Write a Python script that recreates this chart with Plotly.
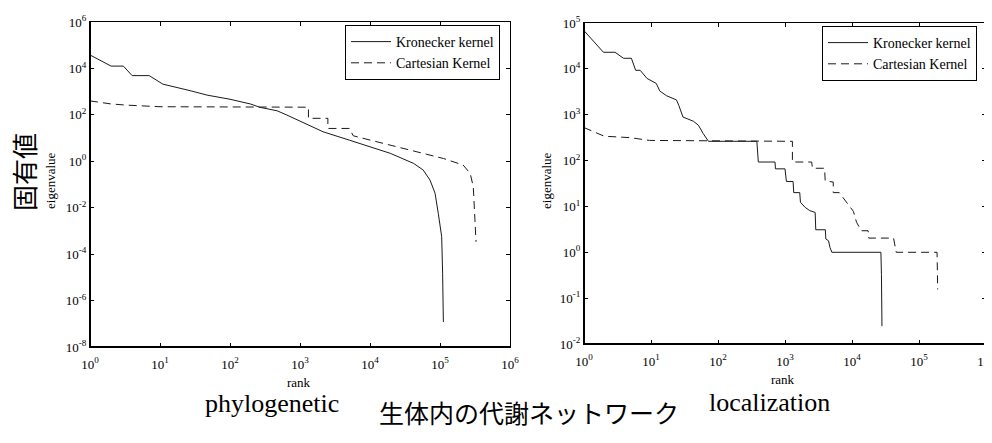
import plotly.graph_objects as go

# ---------------- data ----------------
phylo_kron_rank = [1, 2, 3, 4, 7, 9, 11, 27, 47, 100, 195, 270, 470, 650, 1380, 2140,
                   5100, 1.0e4, 1.95e4, 4.2e4, 5.75e4, 7.2e4, 8.5e4, 9.46e4, 1.057e5,
                   1.09e5, 1.117e5]
phylo_kron_val = [3.8e4, 1.26e4, 1.26e4, 4.9e3, 4.9e3, 3.16e3, 2.1e3, 1.1e3, 710, 470,
                  295, 210, 150, 98, 33, 18.6, 8.1, 4.3, 2.2, 0.81, 0.42, 0.155, 0.042,
                  5.6e-3, 5.6e-4, 1.5e-5, 1.2e-7]

phylo_cart_rank = [1, 2, 3.3, 10, 1320, 1320, 2500, 2500, 5100, 5750, 6800, 1.55e4,
                   5.1e4, 1.12e5, 2.14e5, 2.7e5, 2.99e5, 3.16e5, 3.27e5]
phylo_cart_val = [400, 295, 263, 224, 214, 71, 71, 26, 26, 12.6, 11.0, 5.9,
                  2.57, 1.32, 0.69, 0.30, 0.079, 2.95e-3, 3.4e-4]

loc_kron_rank = [1, 1.95, 2.9, 3.9, 5.1, 5.9, 6.9, 8.7, 12, 13.5, 17, 24, 26, 30, 43, 51,
                 60, 72, 380, 400, 710, 720, 1000, 1050, 1320, 1350, 1660, 1700, 2000,
                 2340, 2820, 2880, 4000, 4070, 4470, 4680, 5000, 2.7e4, 2.75e4, 2.8e4]
loc_kron_val = [6.8e4, 2.3e4, 2.3e4, 1.7e4, 1.7e4, 9.3e3, 9.3e3, 6.2e3, 4.8e3, 3.3e3,
                2.6e3, 2.1e3, 1.6e3, 890, 720, 590, 390, 263, 263, 93, 93, 66, 66, 35,
                35, 20, 20, 12.3, 9.5, 8.1, 7.4, 3.1, 3.1, 1.95, 1.78, 1.29, 1.0, 1.0,
                0.33, 0.0245]

loc_cart_rank = [1, 2, 4.9, 9.5, 1290, 1290, 2500, 2570, 3900, 3980, 5250, 5250, 6450,
                 7950, 1.05e4, 1.17e4, 1.38e4, 1.74e4, 1.78e4, 4.17e4, 4.37e4, 4.57e4,
                 1.86e5, 1.9e5]
loc_cart_val = [525, 340, 316, 275, 263, 93, 93, 68, 68, 36, 34, 20, 20, 13.5, 7.8, 4.5,
                2.95, 2.95, 2.04, 2.04, 1.29, 1.0, 1.0, 0.155]

x_tickvals = [1, 10, 100, 1e3, 1e4, 1e5, 1e6]
x_ticktext = ["10<sup>0</sup>", "10<sup>1</sup>", "10<sup>2</sup>", "10<sup>3</sup>",
              "10<sup>4</sup>", "10<sup>5</sup>", "10<sup>6</sup>"]
y1_tickvals = [1e-8, 1e-6, 1e-4, 1e-2, 1, 1e2, 1e4, 1e6]
y1_ticktext = ["10<sup>-8</sup>", "10<sup>-6</sup>", "10<sup>-4</sup>", "10<sup>-2</sup>",
               "10<sup>0</sup>", "10<sup>2</sup>", "10<sup>4</sup>", "10<sup>6</sup>"]
y2_tickvals = [1e-2, 1e-1, 1, 10, 100, 1e3, 1e4, 1e5]
y2_ticktext = ["10<sup>-2</sup>", "10<sup>-1</sup>", "10<sup>0</sup>", "10<sup>1</sup>",
               "10<sup>2</sup>", "10<sup>3</sup>", "10<sup>4</sup>", "10<sup>5</sup>"]

series_names = ["Kronecker kernel", "Cartesian Kernel"]
panel_titles = ["phylogenetic", "localization"]
x_title = "rank"
y_title = "eigenvalue"
y_big_title = "固有値"
bottom_title = "生体内の代謝ネットワーク"

# ---------------- figure ----------------
W, H = 992, 443
OFF = 8  # page body margin
SERIF = "Liberation Serif"
CJK = "Noto Sans CJK JP"
LINE_C = "#1a1a1a"


def px(x):
    return (x - OFF) / W


def py(y):
    return 1 - (y - OFF) / H


fig = go.Figure()
fig.add_trace(go.Scatter(x=phylo_kron_rank, y=phylo_kron_val, mode="lines",
                         name=series_names[0], line=dict(color=LINE_C, width=1),
                         xaxis="x", yaxis="y", legend="legend"))
fig.add_trace(go.Scatter(x=phylo_cart_rank, y=phylo_cart_val, mode="lines",
                         name=series_names[1],
                         line=dict(color=LINE_C, width=1, dash="8px,5px"),
                         xaxis="x", yaxis="y", legend="legend"))
fig.add_trace(go.Scatter(x=loc_kron_rank, y=loc_kron_val, mode="lines",
                         name=series_names[0], line=dict(color=LINE_C, width=1),
                         xaxis="x2", yaxis="y2", legend="legend2"))
fig.add_trace(go.Scatter(x=loc_cart_rank, y=loc_cart_val, mode="lines",
                         name=series_names[1],
                         line=dict(color=LINE_C, width=1, dash="8px,5px"),
                         xaxis="x2", yaxis="y2", legend="legend2"))

tickfont = dict(family=SERIF, size=13, color="black")
common = dict(type="log", showgrid=False, zeroline=False, ticks="inside", ticklen=4,
              tickwidth=1, tickcolor="black", showline=True, linecolor="black",
              linewidth=1, mirror="ticks", tickfont=tickfont, automargin=False)

L_dom_x = [px(90), px(510)]
L_dom_y = [py(347), py(22)]
R_dom_x = [px(584), px(986)]
R_dom_y = [py(344), py(23)]

legend_common = dict(xanchor="right", yanchor="top", bgcolor="white",
                     bordercolor="black", borderwidth=1, tracegroupgap=0,
                     itemwidth=40,
                     font=dict(family=SERIF, size=14, color="black"))

fig.update_layout(
    width=W, height=H,
    margin=dict(l=0, r=0, t=0, b=0, autoexpand=False),
    paper_bgcolor="white", plot_bgcolor="white",
    font=dict(family=SERIF, color="black"),
    xaxis=dict(common, domain=L_dom_x, anchor="y", range=[0, 6],
               tickvals=x_tickvals, ticktext=x_ticktext, ticklabelstandoff=5),
    yaxis=dict(common, domain=L_dom_y, anchor="x", range=[-8, 6],
               tickvals=y1_tickvals, ticktext=y1_ticktext),
    xaxis2=dict(common, domain=R_dom_x, anchor="y2", range=[0, 6],
                tickvals=x_tickvals, ticktext=x_ticktext, ticklabelstandoff=5),
    yaxis2=dict(common, domain=R_dom_y, anchor="x2", range=[-2, 5],
                tickvals=y2_tickvals, ticktext=y2_ticktext),
    legend=dict(legend_common, x=px(500), y=py(25)),
    legend2=dict(legend_common, x=px(977), y=py(26)),
    showlegend=True,
)

# thicker left / bottom spines
shapes = []
for xr, yr in (("x", "y"), ("x2", "y2")):
    shapes.append(dict(type="line", xref=f"{xr} domain", yref=f"{yr} domain",
                       x0=0, x1=0, y0=0, y1=1, line=dict(color="black", width=2)))
    shapes.append(dict(type="line", xref=f"{xr} domain", yref=f"{yr} domain",
                       x0=0, x1=1, y0=0, y1=0, line=dict(color="black", width=2)))
fig.update_layout(shapes=shapes)

ann = []
ann.append(dict(text=x_title, x=px(299), y=py(382), font=dict(family=SERIF, size=13)))
ann.append(dict(text=x_title, x=px(783), y=py(379), font=dict(family=SERIF, size=13)))
ann.append(dict(text=y_title, x=px(51), y=py(181), textangle=-90,
                font=dict(family=SERIF, size=13)))
ann.append(dict(text=y_title, x=px(547), y=py(181), textangle=-90,
                font=dict(family=SERIF, size=13)))
ann.append(dict(text=panel_titles[0], x=px(272), y=py(403),
                font=dict(family=SERIF, size=26)))
ann.append(dict(text=panel_titles[1], x=px(769), y=py(402),
                font=dict(family=SERIF, size=26)))
ann.append(dict(text=y_big_title, x=px(23), y=py(172), textangle=-90,
                font=dict(family=CJK, size=26)))
ann.append(dict(text=bottom_title, x=px(529), y=py(412),
                font=dict(family=CJK, size=25)))
for a in ann:
    a.update(xref="paper", yref="paper", showarrow=False, xanchor="center",
             yanchor="middle")
    a["font"]["color"] = "black"
fig.update_layout(annotations=ann)

fig.write_html("out.html")
